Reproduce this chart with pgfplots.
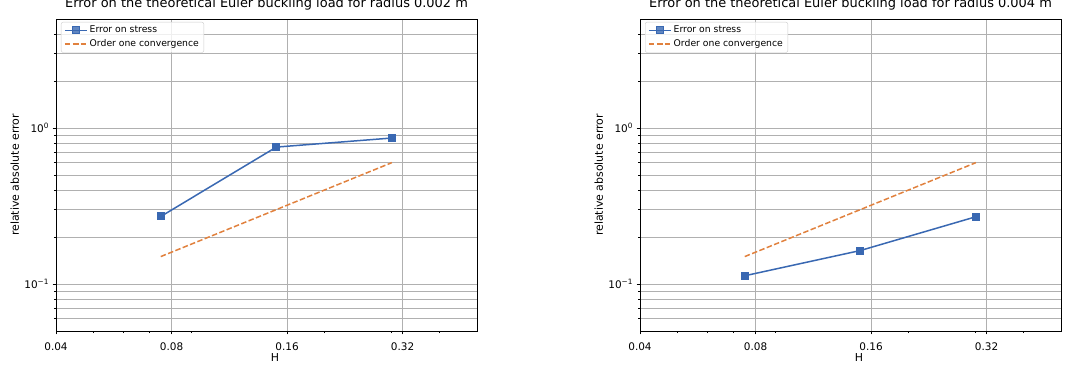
\documentclass[border=0pt]{standalone}
\usepackage{fontspec}
\setmainfont{DejaVu Sans}
\usepackage{pgfplots}
\pgfplotsset{compat=1.18}
\definecolor{mblue}{RGB}{57,104,178}
\definecolor{morange}{RGB}{225,129,62}
\definecolor{gridgray}{RGB}{176,176,176}
\definecolor{leggray}{RGB}{204,204,204}
\pgfplotsset{
  major grid style={gridgray, line width=0.8bp},
  minor grid style={gridgray, line width=0.8bp},
  every tick/.style={black, line width=0.8bp},
  tick label style={font=\fontsize{10.5}{12}\selectfont},
  xticklabel style={anchor=base, yshift=-15.5bp},
  label style={font=\fontsize{11}{13}\selectfont},
  xlabel style={at={(axis description cs:0.52,0)}, anchor=base, yshift=-30.5bp},
  ylabel style={at={(axis description cs:-0.098,0.5)}, anchor=center},
  title style={font=\fontsize{13}{15}\selectfont, at={(axis description cs:0.5,1)}, anchor=base, yshift=5.2bp},
  legend style={at={(0,1)}, anchor=north west, xshift=5bp, yshift=-3bp,
    draw=leggray, rounded corners=2bp, fill=white, fill opacity=0.8, text opacity=1,
    font=\fontsize{9.3}{11}\selectfont, inner xsep=3bp, inner ysep=2bp, row sep=1.5bp},
  legend cell align=left,
  legend image code/.code={\draw[mark repeat=2,mark phase=2] plot coordinates {(0bp,0bp)(11bp,0bp)(22bp,0bp)};},
}
\begin{document}
\begin{tikzpicture}
\path[use as bounding box] (0,0) rectangle (1078bp,371bp);
\begin{axis}[at={(56bp,40bp)}, anchor=south west,
  scale only axis, width=421bp, height=312bp,
  xmode=log, ymode=log,
  xmin=0.04, xmax=0.5, ymin=0.05, ymax=5,
  xtick={0.04,0.08,0.16,0.32}, xticklabels={0.04,0.08,0.16,0.32},
  minor xtick={0.05,0.06,0.07,0.09,0.2,0.3,0.4},
  ytick={0.1,1}, yticklabels={10\textsuperscript{−1},10\textsuperscript{0}},
  minor ytick={0.06,0.07,0.08,0.09,0.2,0.3,0.4,0.5,0.6,0.7,0.8,0.9,2,3,4},
  xmajorgrids, ymajorgrids, yminorgrids, xminorgrids=false,
  tick align=outside, tick pos=left,
  major tick length=3.5bp, minor tick length=2bp,
  axis line style={line width=0.8bp},
  xlabel={H}, ylabel={relative absolute error},
  title={Error on the theoretical Euler buckling load for radius 0.002 m}]
\addplot[mblue, line width=1.5bp, mark=square*, mark size=3.5bp, mark options={solid, line width=1bp}]
  coordinates {(0.075,0.271) (0.15,0.755) (0.3,0.863)};
\addlegendentry{Error on stress}
\addplot[morange, line width=1.5bp, dash pattern=on 5.5bp off 2.4bp]
  coordinates {(0.075,0.15) (0.15,0.3) (0.3,0.6)};
\addlegendentry{Order one convergence}
\end{axis}
\begin{axis}[at={(640bp,40bp)}, anchor=south west,
  scale only axis, width=421bp, height=312bp,
  xmode=log, ymode=log,
  xmin=0.04, xmax=0.5, ymin=0.05, ymax=5,
  xtick={0.04,0.08,0.16,0.32}, xticklabels={0.04,0.08,0.16,0.32},
  minor xtick={0.05,0.06,0.07,0.09,0.2,0.3,0.4},
  ytick={0.1,1}, yticklabels={10\textsuperscript{−1},10\textsuperscript{0}},
  minor ytick={0.06,0.07,0.08,0.09,0.2,0.3,0.4,0.5,0.6,0.7,0.8,0.9,2,3,4},
  xmajorgrids, ymajorgrids, yminorgrids, xminorgrids=false,
  tick align=outside, tick pos=left,
  major tick length=3.5bp, minor tick length=2bp,
  axis line style={line width=0.8bp},
  xlabel={H}, ylabel={relative absolute error},
  title={Error on the theoretical Euler buckling load for radius 0.004 m}]
\addplot[mblue, line width=1.5bp, mark=square*, mark size=3.5bp, mark options={solid, line width=1bp}]
  coordinates {(0.075,0.113) (0.15,0.164) (0.3,0.270)};
\addlegendentry{Error on stress}
\addplot[morange, line width=1.5bp, dash pattern=on 5.5bp off 2.4bp]
  coordinates {(0.075,0.15) (0.15,0.3) (0.3,0.6)};
\addlegendentry{Order one convergence}
\end{axis}
\end{tikzpicture}
\end{document}
